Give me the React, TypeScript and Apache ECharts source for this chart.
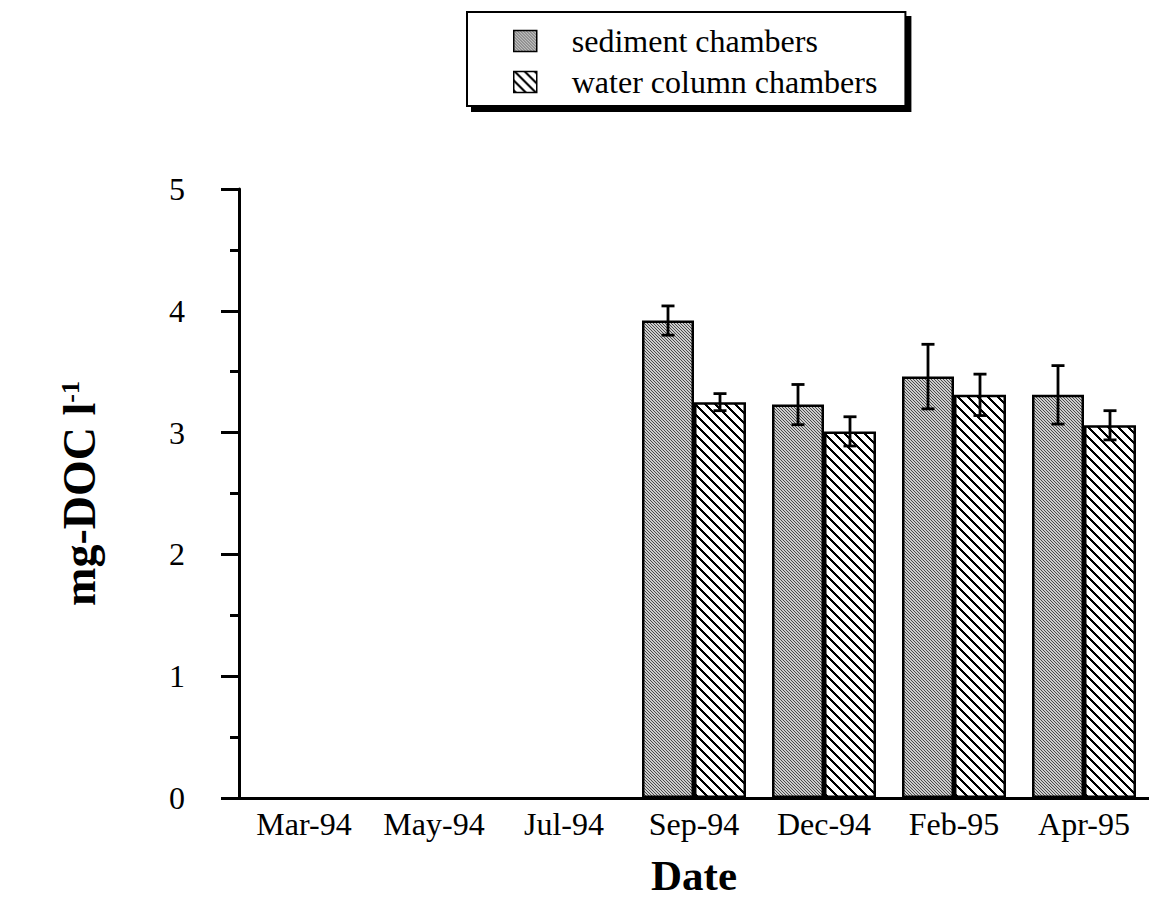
import React, { useEffect, useRef } from "react";
import * as echarts from "echarts";

const categories = ["Mar-94", "May-94", "Jul-94", "Sep-94", "Dec-94", "Feb-95", "Apr-95"];
const sedimentValues: (number | null)[] = [null, null, null, 3.92, 3.23, 3.46, 3.31];
const sedimentErrors: (number | null)[] = [null, null, null, 0.12, 0.165, 0.265, 0.24];
const waterValues: (number | null)[] = [null, null, null, 3.25, 3.01, 3.31, 3.06];
const waterErrors: (number | null)[] = [null, null, null, 0.07, 0.12, 0.17, 0.12];
const yTicks = [0, 1, 2, 3, 4, 5];
const seriesNames = ["sediment chambers", "water column chambers"];

const FONT = "'Liberation Serif', 'Times New Roman', serif";

function makeTile(size: number, fn: (x: number, y: number) => string): HTMLCanvasElement {
  const c = document.createElement("canvas");
  c.width = size;
  c.height = size;
  const ctx = c.getContext("2d")!;
  for (let y = 0; y < size; y++) {
    for (let x = 0; x < size; x++) {
      ctx.fillStyle = fn(x, y);
      ctx.fillRect(x, y, 1, 1);
    }
  }
  return c;
}

export default function App() {
  const ref = useRef<HTMLDivElement>(null);
  useEffect(() => {
    if (!ref.current) return;
    const chart = echarts.init(ref.current, null, { renderer: "svg" });

    const sedTile = makeTile(6, (x, y) => (((x - y) % 3) + 3) % 3 === 0 ? "#4a4a4a" : "#cdcdcd");
    const watTile = makeTile(10, (x, y) => (((x - y) % 10) + 10) % 10 < 3 ? "#000000" : "#ffffff");
    const sedPattern: any = { image: sedTile, repeat: "repeat", imageWidth: 6, imageHeight: 6 };
    const watPattern: any = { image: watTile, repeat: "repeat", imageWidth: 10, imageHeight: 10 };

    const errData: any[] = [];
    sedimentValues.forEach((v, i) => {
      if (v != null && sedimentErrors[i] != null) errData.push([i, v, sedimentErrors[i], 0]);
    });
    waterValues.forEach((v, i) => {
      if (v != null && waterErrors[i] != null) errData.push([i, v, waterErrors[i], 1]);
    });

    const option: any = {
      animation: false,
      backgroundColor: "#ffffff",
      textStyle: { fontFamily: FONT, color: "#000" },
      legend: {
        orient: "vertical",
        left: 467,
        top: 12,
        padding: [13, 28, 8, 46],
        icon: "rect",
        itemWidth: 23,
        itemHeight: 21,
        itemGap: 9,
        itemStyle: { borderColor: "#000", borderWidth: 1.5 },
        backgroundColor: "#ffffff",
        borderColor: "#000",
        borderWidth: 2,
        borderRadius: 0,
        shadowColor: "#000",
        shadowBlur: 0,
        shadowOffsetX: 5,
        shadowOffsetY: 5,
        textStyle: { fontFamily: FONT, fontSize: 32, color: "#000", padding: [0, 0, 0, 30] },
        data: seriesNames,
      },
      grid: { left: 239, right: 0, top: 189, bottom: 103, containLabel: false },
      xAxis: {
        type: "category",
        data: categories,
        name: "Date",
        nameLocation: "middle",
        nameGap: 56,
        nameTextStyle: { fontFamily: FONT, fontSize: 43, fontWeight: "bold", color: "#000" },
        axisLine: { lineStyle: { color: "#000", width: 3 } },
        axisTick: { show: false },
        axisLabel: { fontFamily: FONT, fontSize: 32, color: "#000", margin: 10, interval: 0, hideOverlap: false },
      },
      yAxis: {
        type: "value",
        min: yTicks[0],
        max: yTicks[yTicks.length - 1],
        interval: 1,
        name: "{a|mg-DOC l}{b|-1}",
        nameLocation: "middle",
        nameGap: 137,
        nameRotate: 90,
        nameTextStyle: {
          rich: {
            a: { fontFamily: FONT, fontSize: 46, fontWeight: "bold", color: "#000" },
            b: { fontFamily: FONT, fontSize: 26, fontWeight: "bold", color: "#000", padding: [0, 0, 18, 0] },
          },
        },
        axisLine: { show: true, lineStyle: { color: "#000", width: 3 } },
        axisTick: { show: true, length: 18, lineStyle: { color: "#000", width: 3 } },
        minorTick: { show: true, splitNumber: 2, length: 9, lineStyle: { color: "#000", width: 3 } },
        splitLine: { show: false },
        axisLabel: { fontFamily: FONT, fontSize: 32, color: "#000", margin: 54 },
      },
      series: [
        {
          name: seriesNames[0],
          type: "bar",
          data: sedimentValues,
          barCategoryGap: "20%",
          barGap: "0%",
          itemStyle: { color: sedPattern, borderColor: "#000", borderWidth: 2.5 },
        },
        {
          name: seriesNames[1],
          type: "bar",
          data: waterValues,
          barCategoryGap: "20%",
          barGap: "0%",
          itemStyle: { color: watPattern, borderColor: "#000", borderWidth: 2.5 },
        },
        {
          type: "custom",
          data: errData,
          encode: { x: 0, y: 1 },
          z: 10,
          silent: true,
          renderItem: (params: any, api: any) => {
            const cat = api.value(0);
            const v = api.value(1);
            const e = api.value(2);
            const s = api.value(3);
            const band = api.size([1, 0])[0];
            const bw = (band * 0.8) / 2;
            const off = (s === 0 ? -1 : 1) * (bw / 2);
            const top = api.coord([cat, v + e]);
            const bot = api.coord([cat, v - e]);
            const x = top[0] + off;
            const cap = 6.5;
            const style = { stroke: "#000", lineWidth: 2.8 };
            return {
              type: "group",
              children: [
                { type: "line", shape: { x1: x, y1: top[1], x2: x, y2: bot[1] }, style },
                { type: "line", shape: { x1: x - cap, y1: top[1], x2: x + cap, y2: top[1] }, style },
                { type: "line", shape: { x1: x - cap, y1: bot[1], x2: x + cap, y2: bot[1] }, style },
              ],
            };
          },
        },
      ],
    };
    chart.setOption(option);
    return () => chart.dispose();
  }, []);
  return (
    <div
      ref={ref}
      style={{ position: "absolute", left: 0, top: 0, width: 1149, height: 902, background: "#fff" }}
    />
  );
}
